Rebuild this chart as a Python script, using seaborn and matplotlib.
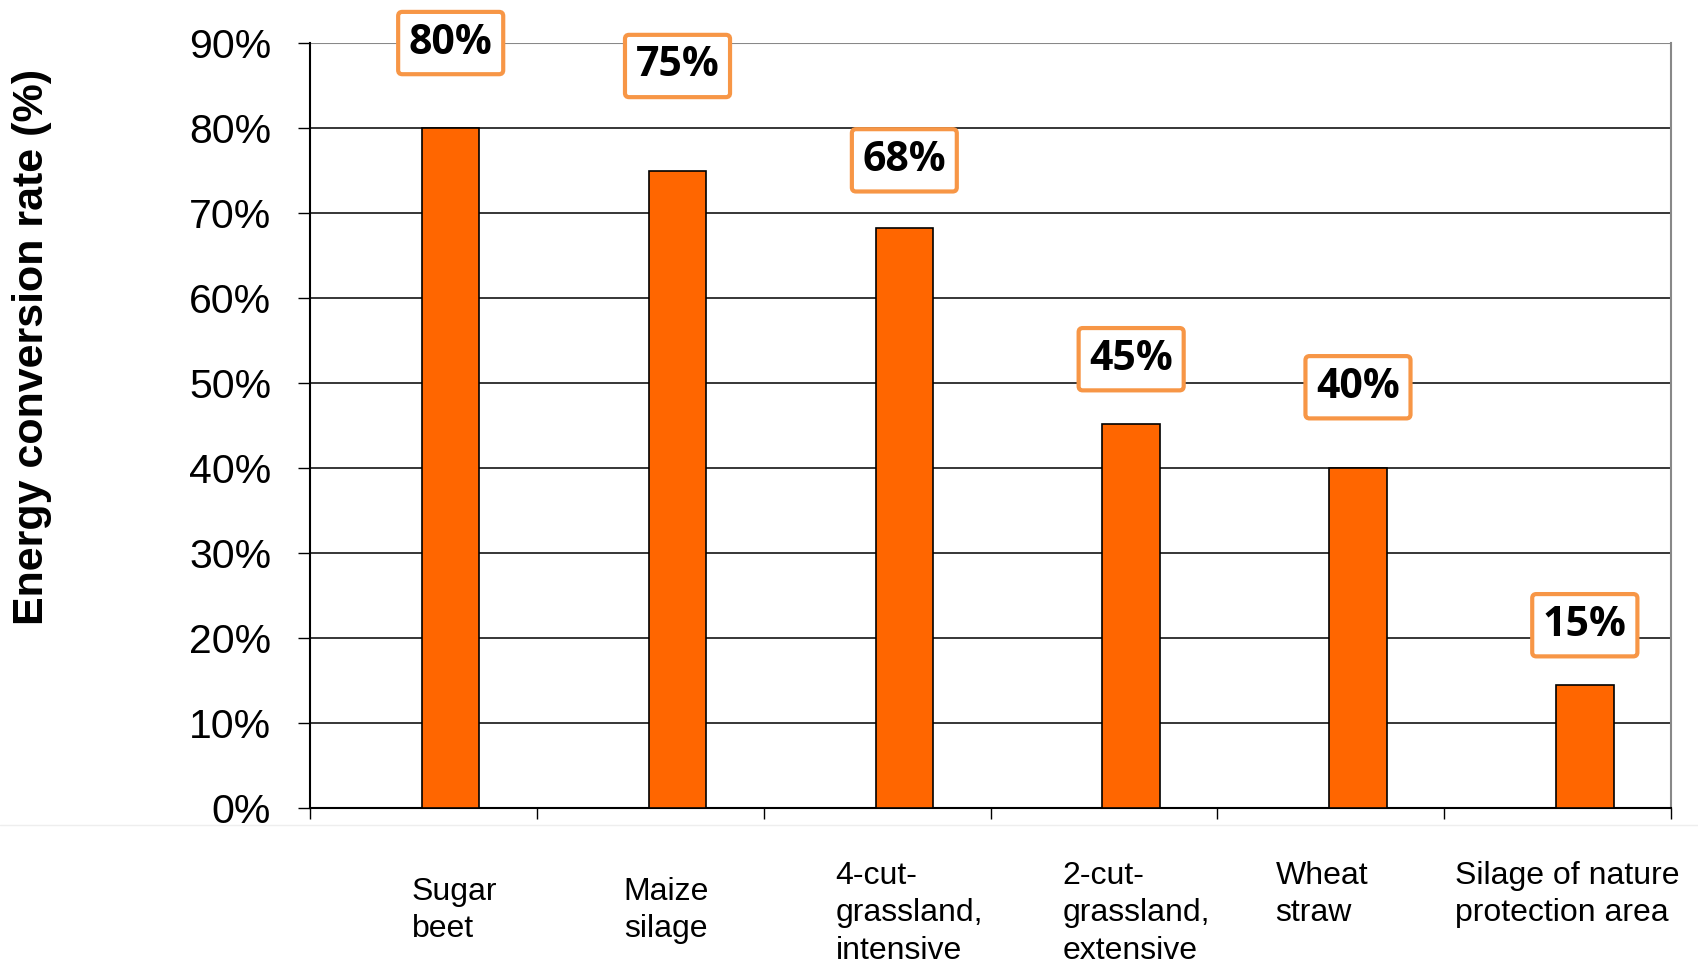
import numpy as np
import pandas as pd
import seaborn as sns
import matplotlib.pyplot as plt
from matplotlib.ticker import PercentFormatter, FixedLocator, NullFormatter
from matplotlib.lines import Line2D

categories = ["Sugar\nbeet", "Maize\nsilage", "4-cut-\ngrassland,\nintensive",
              "2-cut-\ngrassland,\nextensive", "Wheat\nstraw",
              "Silage of nature\nprotection area"]
rates = [80, 75, 68.2, 45.2, 40, 14.5]
value_labels = ["80%", "75%", "68%", "45%", "40%", "15%"]
# where the callout boxes sit (y, in %)
box_y = [90, 87.3, 76.2, 52.8, 49.5, 21.5]
# category label placement (px): drop below axis, shift from bar centre
label_drop = [75, 75, 59, 59, 59, 59]
label_dx = [4, -11, 5, 5, -36, -18]

sns.set_style("white")
plt.rcParams['font.family'] = ['Liberation Sans', 'DejaVu Sans']
plt.rcParams['text.color'] = 'black'
plt.rcParams['xtick.color'] = 'black'
plt.rcParams['ytick.color'] = 'black'

df = pd.DataFrame({"crop": categories, "rate": rates})

fig = plt.figure(figsize=(16.98, 9.63), dpi=100)
ax = fig.add_axes([0.1826, 0.161, 0.8015, 0.7943])

sns.barplot(data=df, x="crop", y="rate", color="#FF6600", saturation=1,
            edgecolor="black", linewidth=1.2, width=0.253, ax=ax, zorder=3)

# bars sit right of the category centre, like the original
ax.set_xlim(-0.62, 5.38)
ax.set_ylim(0, 90)
ax.set_yticks(np.arange(0, 91, 10))
ax.yaxis.set_major_formatter(PercentFormatter(decimals=0))
ax.tick_params(axis='y', labelsize=29.5, length=9, width=1, direction='out',
               color='black', pad=19, left=True)

for y in np.arange(10, 90, 10):
    ax.axhline(y, color='black', lw=1.1, zorder=1)
ax.axhline(90, color='#888888', lw=1.5, zorder=1)

ax.xaxis.set_major_formatter(NullFormatter())
ax.tick_params(axis='x', which='major', length=0)
ax.xaxis.set_minor_locator(FixedLocator(np.arange(-0.62, 5.4, 1.0)))
ax.tick_params(axis='x', which='minor', length=8, width=1, direction='out',
               color='black', bottom=True)
ax.set_xlabel("")
ax.set_ylabel("")

for s in ['left', 'bottom']:
    ax.spines[s].set_color('black')
    ax.spines[s].set_linewidth(1.5)
ax.spines['right'].set_color('#888888')
ax.spines['right'].set_linewidth(1.5)
ax.spines['top'].set_visible(False)

for i, lab in enumerate(categories):
    ax.annotate(lab, xy=(i, 0), xycoords=('data', 'axes fraction'),
                xytext=(label_dx[i], -label_drop[i] + 6),
                textcoords='offset pixels', ha='center', va='top',
                multialignment='left', fontsize=23, linespacing=1.32)

for i, (lab, y) in enumerate(zip(value_labels, box_y)):
    ax.text(i, y, lab, ha='center', va='center', fontsize=29.5,
            fontweight='bold', family=['Open Sans', 'DejaVu Sans'], zorder=5,
            color='black',
            bbox=dict(boxstyle='round,pad=0.26,rounding_size=0.1',
                      fc='white', ec='#F79646', lw=3))

fig.text(0.019, 0.64, "Energy conversion rate (%)", rotation=90,
         ha='center', va='center', fontsize=31, fontweight='bold')

fig.add_artist(Line2D([0, 1], [1 - 825 / 963] * 2, color='#eeeeee', lw=1,
                      transform=fig.transFigure))

fig.savefig("out.png", dpi=100)
